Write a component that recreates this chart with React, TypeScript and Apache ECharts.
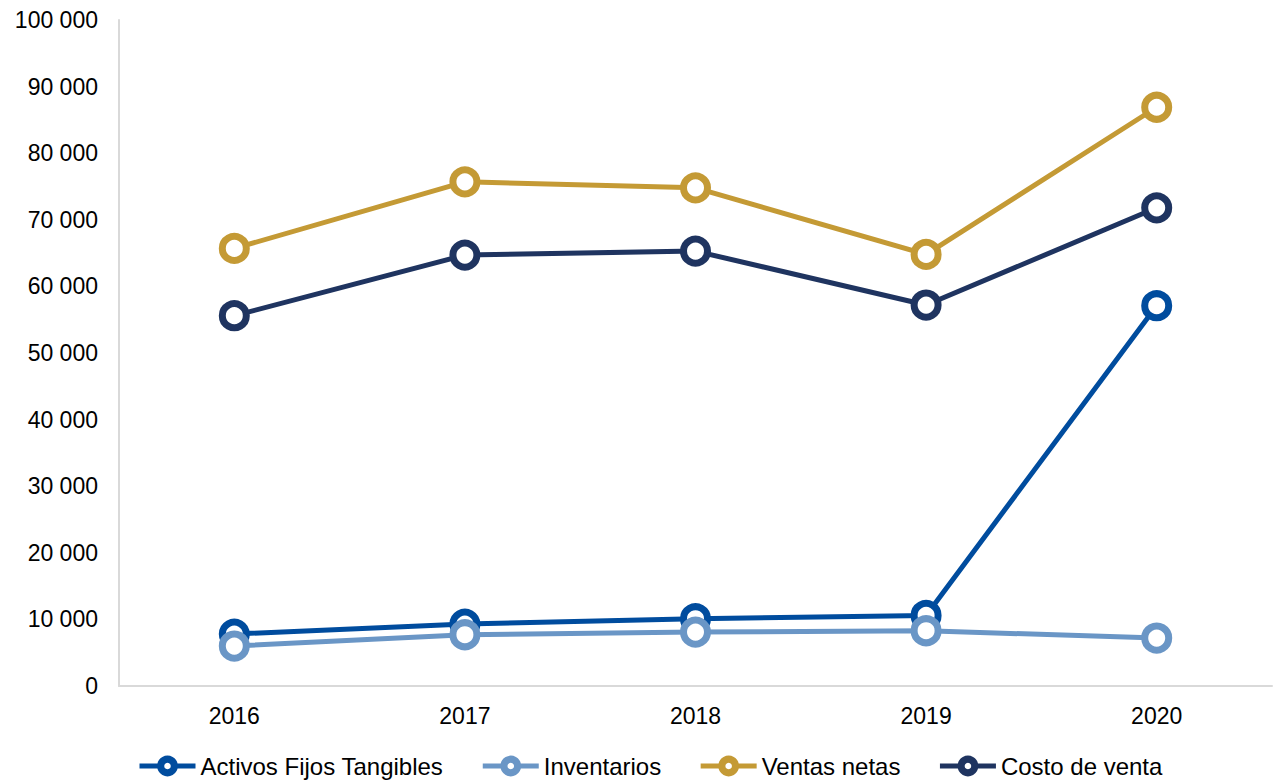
import React, { useEffect, useRef } from "react";
import * as echarts from "echarts";

const years = ["2016", "2017", "2018", "2019", "2020"];
const activos = [7800, 9300, 10100, 10600, 57100];
const inventarios = [6000, 7700, 8100, 8300, 7200];
const ventas = [65700, 75700, 74800, 64800, 86900];
const costo = [55600, 64700, 65300, 57200, 71800];

const seriesDefs = [
  { name: "Activos Fijos Tangibles", data: activos, color: "#004C9E" },
  { name: "Inventarios", data: inventarios, color: "#6A96C6" },
  { name: "Ventas netas", data: ventas, color: "#C49A35" },
  { name: "Costo de venta", data: costo, color: "#1F3460" },
];

const font = "'Liberation Sans', Arial, sans-serif";

export default function App() {
  const ref = useRef<HTMLDivElement>(null);
  useEffect(() => {
    const chart = echarts.init(ref.current!, null, { renderer: "svg" });
    chart.setOption({
      animation: false,
      textStyle: { fontFamily: font },
      grid: { left: 119, right: 4, top: 20, bottom: 94, containLabel: false },
      legend: {
        top: 753,
        left: 137,
        padding: 0,
        itemWidth: 56,
        itemHeight: 17,
        itemGap: 37,
        textStyle: { fontSize: 24, color: "#000", fontFamily: font, lineHeight: 26 },
        lineStyle: { width: 5 },
        itemStyle: { borderWidth: 7 },
        data: seriesDefs.map((s) => s.name),
      },
      xAxis: {
        type: "category",
        data: years,
        boundaryGap: true,
        axisLine: { show: true, lineStyle: { color: "#D9D9D9", width: 2 } },
        axisTick: { show: false },
        axisLabel: { color: "#000", fontSize: 23, margin: 18, fontFamily: font },
        splitLine: { show: false },
      },
      yAxis: {
        type: "value",
        min: 0,
        max: 100000,
        interval: 10000,
        axisLine: { show: true, lineStyle: { color: "#D9D9D9", width: 2 } },
        axisTick: { show: false },
        splitLine: { show: false },
        axisLabel: {
          color: "#000",
          fontSize: 23,
          margin: 21,
          fontFamily: font,
          formatter: (v: number) => String(v).replace(/\B(?=(\d{3})+(?!\d))/g, " "),
        },
      },
      series: seriesDefs.map((s) => ({
        name: s.name,
        type: "line",
        data: s.data,
        symbol: "circle",
        symbolSize: 24,
        lineStyle: { color: s.color, width: 5 },
        itemStyle: { color: "#fff", borderColor: s.color, borderWidth: 7 },
        emphasis: { disabled: true },
      })),
    });
    return () => chart.dispose();
  }, []);
  return (
    <div
      ref={ref}
      style={{ position: "fixed", left: 0, top: 0, width: 1276, height: 780, background: "#fff" }}
    />
  );
}
